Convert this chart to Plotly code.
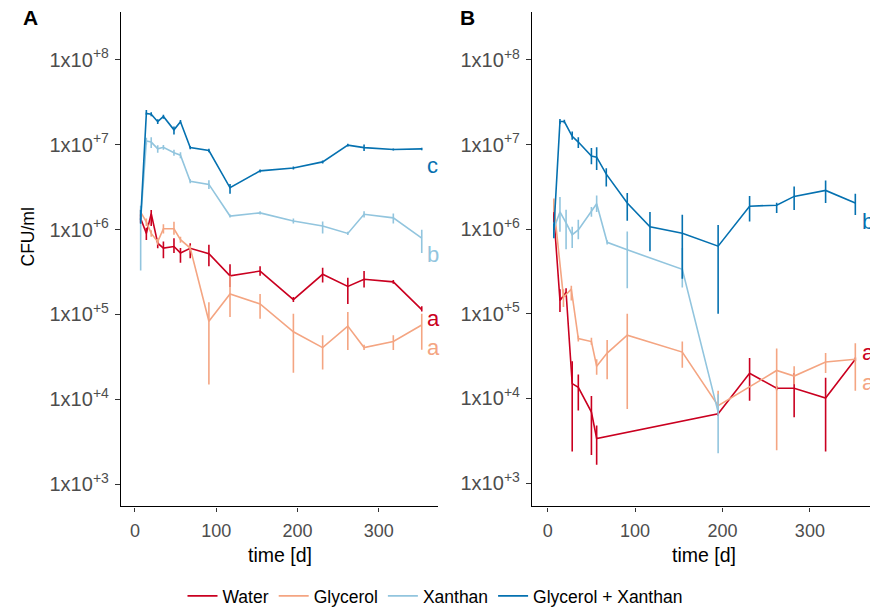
import math
import plotly.graph_objects as go

# ---- Panel A: survival over time (CFU/ml), mean with lower/upper bounds ----
days_a = [7, 14, 20, 28, 35, 48, 56, 68, 91, 117, 154, 195, 231, 262, 282, 318, 353]

water_a = [1.35e6, 9.0e5, 1.54e6, 6.9e5, 6.05e5, 6.3e5, 5.3e5, 6.0e5, 5.2e5, 2.85e5, 3.24e5, 1.49e5, 2.97e5, 2.14e5, 2.6e5, 2.42e5, 1.14e5]
water_a_lo = [1.2e6, 7.5e5, 1.1e6, 6.0e5, 4.6e5, 5.3e5, 4.05e5, 4.6e5, 3.7e5, 2.1e5, 2.85e5, 1.4e5, 2.38e5, 1.33e5, 2.08e5, 2.3e5, 1.08e5]
water_a_hi = [1.5e6, 1.05e6, 1.7e6, 7.8e5, 7.2e5, 7.9e5, 6.05e5, 6.9e5, 6.6e5, 3.9e5, 3.7e5, 1.6e5, 3.55e5, 2.7e5, 3.24e5, 2.55e5, 1.25e5]

glycerol_a = [1.6e6, 1.23e6, 9.0e5, 7.2e5, 1.02e6, 1.02e6, 7.6e5, 6.05e5, 8.3e4, 1.74e5, 1.33e5, 6.25e4, 4.07e4, 7.3e4, 4.07e4, 4.8e4, 7.5e4]
glycerol_a_lo = [1.45e6, 1.1e6, 8.2e5, 6.6e5, 9.0e5, 8.7e5, 7.0e5, 5.6e5, 1.5e4, 9.3e4, 8.9e4, 2.06e4, 2.24e4, 3.8e4, 3.8e4, 3.8e4, 3.84e4]
glycerol_a_hi = [1.75e6, 1.35e6, 9.8e5, 7.8e5, 1.15e6, 1.23e6, 8.2e5, 6.5e5, 1.39e5, 2.85e5, 1.74e5, 1.02e5, 5.7e4, 1.07e5, 4.4e4, 5.7e4, 1.02e5]

xanthan_a = [1.3e6, 1.1e7, 1.07e7, 8.9e6, 9.3e6, 8.0e6, 7.5e6, 3.7e6, 3.4e6, 1.44e6, 1.57e6, 1.26e6, 1.1e6, 9.0e5, 1.51e6, 1.37e6, 7.9e5]
xanthan_a_lo = [3.3e5, 1.0e7, 9.1e6, 8.0e6, 8.7e6, 7.4e6, 6.9e6, 3.5e6, 3.0e6, 1.38e6, 1.5e6, 1.18e6, 9.0e5, 8.6e5, 1.38e6, 1.18e6, 5.3e5]
xanthan_a_hi = [1.9e6, 1.2e7, 1.22e7, 9.8e6, 9.9e6, 8.7e6, 8.1e6, 3.9e6, 3.8e6, 1.5e6, 1.64e6, 1.35e6, 1.24e6, 9.4e5, 1.64e6, 1.54e6, 9.9e5]

glyxan_a = [1.3e6, 2.33e7, 2.27e7, 1.86e7, 2.14e7, 1.49e7, 1.86e7, 9.2e6, 8.5e6, 3.1e6, 4.9e6, 5.3e6, 6.25e6, 9.85e6, 9.2e6, 8.75e6, 8.9e6]
glyxan_a_lo = [1.17e6, 2.24e7, 2.15e7, 1.75e7, 2.02e7, 1.31e7, 1.78e7, 8.8e6, 8.1e6, 2.63e6, 4.7e6, 5.1e6, 6.0e6, 9.5e6, 8.4e6, 8.5e6, 8.6e6]
glyxan_a_hi = [1.7e6, 2.55e7, 2.4e7, 1.98e7, 2.25e7, 1.63e7, 1.95e7, 9.6e6, 8.9e6, 3.44e6, 5.1e6, 5.5e6, 6.5e6, 1.02e7, 1.0e7, 9.0e6, 9.2e6]

# ---- Panel B ----
days_b_water = [7, 14, 21, 28, 35, 50, 56, 195, 231, 262, 282, 318, 352]
water_b = [1.45e6, 1.44e5, 1.8e5, 1.5e4, 1.35e4, 6.9e3, 3.37e3, 6.6e3, 1.98e4, 1.32e4, 1.32e4, 1.01e4, 2.9e4]
water_b_lo = [1.15e6, 1.05e5, 1.6e5, 2.36e3, 7.2e3, 2.15e3, 1.65e3, 6.2e3, 9.4e3, 1.25e4, 6.0e3, 2.36e3, 2.75e4]
water_b_hi = [1.75e6, 1.95e5, 2.0e5, 2.75e4, 1.92e4, 1.07e4, 4.8e3, 7.0e3, 3.0e4, 1.4e4, 2.0e4, 1.76e4, 3.05e4]

days_b_glycerol = [7, 18, 27, 35, 50, 56, 68, 91, 154, 195, 262, 282, 318, 352]
glycerol_b = [1.9e6, 1.57e5, 1.96e5, 5.1e4, 4.7e4, 2.4e4, 3.44e4, 5.6e4, 3.53e4, 8.2e3, 2.14e4, 1.84e4, 2.7e4, 2.9e4]
glycerol_b_lo = [1.6e6, 1.2e5, 1.44e5, 4.7e4, 4.3e4, 1.9e4, 1.69e4, 7.5e3, 2.3e4, 6.9e3, 2.45e3, 1.47e4, 2.0e4, 1.23e4]
glycerol_b_hi = [2.3e6, 1.95e5, 2.15e5, 5.5e4, 5.2e4, 2.9e4, 4.9e4, 1.0e5, 4.7e4, 1.23e4, 3.9e4, 2.4e4, 3.44e4, 4.5e4]

days_b_xanthan = [7, 14, 21, 28, 35, 50, 56, 68, 91, 154, 195]
xanthan_b = [1.02e6, 1.6e6, 1.19e6, 8.6e5, 9.8e5, 1.63e6, 2.0e6, 7.0e5, 5.7e5, 3.36e5, 6.9e3]
xanthan_b_lo = [8.0e5, 9.3e5, 5.8e5, 6.0e5, 7.6e5, 1.4e6, 1.6e6, 6.6e5, 2.0e5, 2.05e5, 2.25e3]
xanthan_b_hi = [1.2e6, 2.4e6, 1.7e6, 1.07e6, 1.29e6, 1.83e6, 2.5e6, 7.4e5, 9.4e5, 6.0e5, 1.12e4]

days_b_glyxan = [7, 14, 19, 28, 35, 50, 56, 67, 91, 117, 154, 195, 231, 262, 282, 318, 352]
glyxan_b = [9.8e5, 1.87e7, 1.87e7, 1.25e7, 1.07e7, 7.3e6, 7.1e6, 4.47e6, 2.04e6, 1.07e6, 8.95e5, 6.3e5, 1.87e6, 1.92e6, 2.44e6, 2.87e6, 2.04e6]
glyxan_b_lo = [7.8e5, 1.75e7, 1.78e7, 1.14e7, 9.1e6, 5.85e6, 5.0e6, 3.2e6, 1.26e6, 5.5e5, 2.6e5, 1.0e5, 1.23e6, 1.55e6, 1.68e6, 2.04e6, 1.47e6]
glyxan_b_hi = [1.17e6, 2.0e7, 1.96e7, 1.43e7, 1.22e7, 9.1e6, 9.3e6, 5.25e6, 2.67e6, 1.6e6, 1.48e6, 1.12e6, 2.46e6, 2.05e6, 3.2e6, 3.75e6, 2.62e6]

# ---- Treatment names, colours and significance letters ----
treatments = ["Water", "Glycerol", "Xanthan", "Glycerol + Xanthan"]
colors = ["#CA0020", "#F4A582", "#92C5DE", "#0571B0"]

letters_a = ["a", "a", "b", "c"]
letter_pos_a = [(357, 9.0e4), (357, 4.1e4), (357, 5.1e5), (357, 5.6e6)]
letters_b = ["a", "a", "b"]
letter_pos_b = [(357, 3.5e4), (357, 1.55e4), (357, 1.23e6)]
letter_colors_b = ["#CA0020", "#F4A582", "#0571B0"]

y_tickvals = [1e3, 1e4, 1e5, 1e6, 1e7, 1e8]
y_ticktext = ["1x10<sup>+%d</sup>" % e for e in range(3, 9)]
x_tickvals = [0, 100, 200, 300]

FONT = "Liberation Sans, Arial, sans-serif"
W, H = 870, 614

panel_a = [
    (days_a, water_a, water_a_lo, water_a_hi),
    (days_a, glycerol_a, glycerol_a_lo, glycerol_a_hi),
    (days_a, xanthan_a, xanthan_a_lo, xanthan_a_hi),
    (days_a, glyxan_a, glyxan_a_lo, glyxan_a_hi),
]
panel_b = [
    (days_b_water, water_b, water_b_lo, water_b_hi),
    (days_b_glycerol, glycerol_b, glycerol_b_lo, glycerol_b_hi),
    (days_b_xanthan, xanthan_b, xanthan_b_lo, xanthan_b_hi),
    (days_b_glyxan, glyxan_b, glyxan_b_lo, glyxan_b_hi),
]

fig = go.Figure()


def add_series(data, xref, yref, show_legend):
    for name, color, (x, y, lo, hi) in zip(treatments, colors, data):
        fig.add_trace(go.Scatter(
            x=x, y=y, mode="lines", name=name,
            line=dict(color=color, width=1.6),
            error_y=dict(type="data", symmetric=False,
                         array=[h - v for h, v in zip(hi, y)],
                         arrayminus=[v - l for v, l in zip(y, lo)],
                         color=color, thickness=1.6, width=0),
            xaxis=xref, yaxis=yref, showlegend=show_legend,
            legendgroup=name,
        ))


add_series(panel_a, "x", "y", True)
add_series(panel_b, "x2", "y2", False)

# significance letters next to the last time point (log axes take log10 positions)
for txt, (lx, ly), col in zip(letters_a, letter_pos_a, colors):
    fig.add_annotation(x=lx, y=math.log10(ly), xref="x", yref="y", text=txt,
                       showarrow=False, xanchor="left", yanchor="middle",
                       font=dict(family=FONT, size=22, color=col))
for txt, (lx, ly), col in zip(letters_b, letter_pos_b, letter_colors_b):
    fig.add_annotation(x=lx, y=math.log10(ly), xref="x2", yref="y2", text=txt,
                       showarrow=False, xanchor="left", yanchor="middle",
                       font=dict(family=FONT, size=22, color=col))

# panel tags and axis titles
fig.add_annotation(x=30 / W, y=1 - 18 / H, xref="paper", yref="paper", text="<b>A</b>",
                   showarrow=False, xanchor="center", yanchor="middle",
                   font=dict(family=FONT, size=21, color="black"))
fig.add_annotation(x=467 / W, y=1 - 18 / H, xref="paper", yref="paper", text="<b>B</b>",
                   showarrow=False, xanchor="center", yanchor="middle",
                   font=dict(family=FONT, size=21, color="black"))
fig.add_annotation(x=28 / W, y=1 - 241 / H, xref="paper", yref="paper", text="CFU/ml",
                   textangle=-90, showarrow=False, xanchor="center", yanchor="middle",
                   font=dict(family=FONT, size=17.5, color="black"))
fig.add_annotation(x=279.5 / W, y=1 - 563 / H, xref="paper", yref="paper", text="time [d]",
                   showarrow=False, xanchor="center", yanchor="middle",
                   font=dict(family=FONT, size=19.5, color="black"))
fig.add_annotation(x=704 / W, y=1 - 563 / H, xref="paper", yref="paper", text="time [d]",
                   showarrow=False, xanchor="center", yanchor="middle",
                   font=dict(family=FONT, size=19.5, color="black"))

y_dom = [1 - 514 / H, 1 - 12 / H]
common_x = dict(showline=True, linecolor="black", linewidth=1.3, showgrid=False,
                zeroline=False, ticks="outside", ticklen=4, tickcolor="#333333",
                tickwidth=1, tickvals=x_tickvals, automargin=False,
                tickfont=dict(family=FONT, size=18, color="#4D4D4D"),
                ticklabelstandoff=4)
common_y = dict(type="log", showline=True, linecolor="black", linewidth=1.3,
                showgrid=False, zeroline=False, ticks="outside", ticklen=5,
                tickcolor="#333333", tickwidth=1, tickvals=y_tickvals,
                ticktext=y_ticktext, automargin=False,
                tickfont=dict(family=FONT, size=20, color="#4D4D4D"),
                ticklabelstandoff=2, domain=y_dom)

fig.update_layout(
    width=W, height=H,
    margin=dict(l=0, r=0, t=0, b=0),
    template="none",
    paper_bgcolor="white", plot_bgcolor="white",
    font=dict(family=FONT, size=15, color="black"),
    xaxis=dict(domain=[121 / W, 438 / W], range=[-17.2, 373], anchor="y", **common_x),
    xaxis2=dict(domain=[532 / W, 1.0], range=[-18, 368.8], anchor="y2", **common_x),
    yaxis=dict(range=[2.739, 8.563], anchor="x", **common_y),
    yaxis2=dict(range=[2.724, 8.568], anchor="x2", **common_y),
    legend=dict(orientation="h", x=0.5, xanchor="center", y=1 - 605 / H,
                yanchor="middle", font=dict(family=FONT, size=17.5, color="black"),
                itemwidth=30, bgcolor="rgba(0,0,0,0)"),
)

fig.write_html("out.html")
